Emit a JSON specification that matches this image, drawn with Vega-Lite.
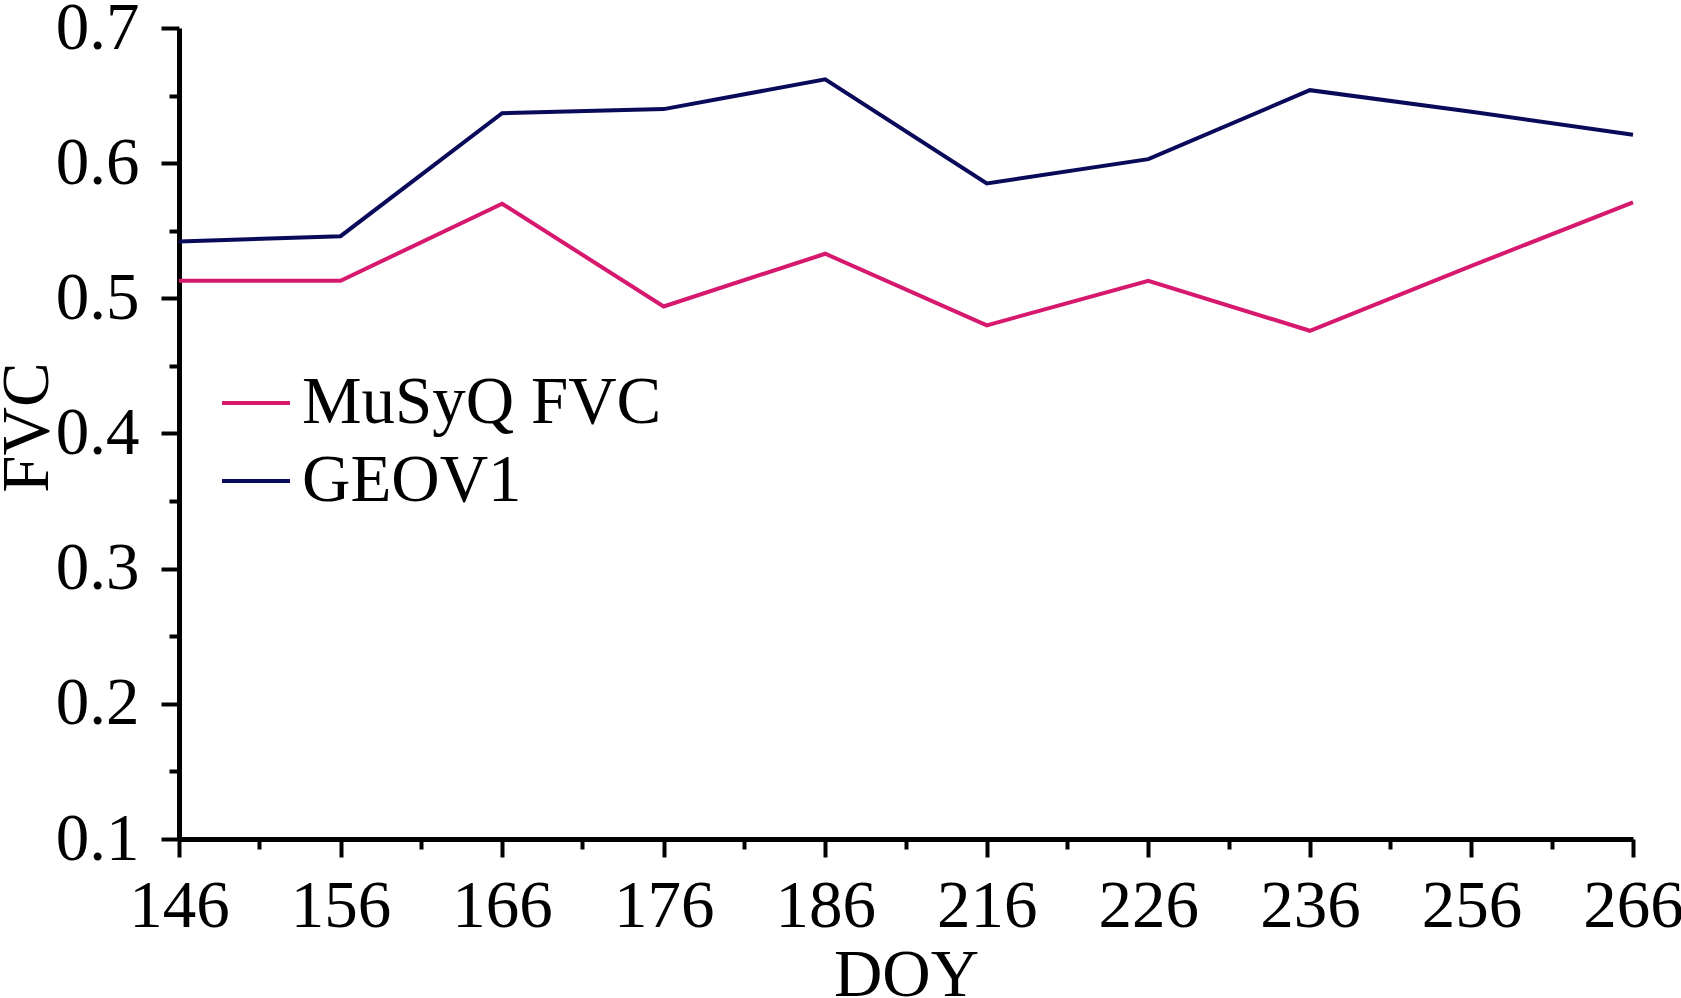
{
  "$schema": "https://vega.github.io/schema/vega-lite/v6.json",
  "width": 1454,
  "height": 811,
  "autosize": {"type": "none"},
  "padding": {"left": 179, "top": 28, "right": 48, "bottom": 159},
  "config": {
    "font": "Liberation Serif",
    "view": {"stroke": null},
    "axis": {
      "grid": false,
      "domainColor": "black",
      "domainWidth": 5,
      "tickColor": "black",
      "tickWidth": 4,
      "labelColor": "black",
      "labelFont": "Liberation Serif",
      "labelFontSize": 67,
      "titleFont": "Liberation Serif",
      "titleFontSize": 67,
      "titleFontWeight": "normal",
      "titleColor": "black"
    }
  },
  "data": {
    "values": [
      {"DOY": 146, "product": "MuSyQ FVC", "FVC": 0.513},
      {"DOY": 156, "product": "MuSyQ FVC", "FVC": 0.513},
      {"DOY": 166, "product": "MuSyQ FVC", "FVC": 0.570},
      {"DOY": 176, "product": "MuSyQ FVC", "FVC": 0.494},
      {"DOY": 186, "product": "MuSyQ FVC", "FVC": 0.533},
      {"DOY": 216, "product": "MuSyQ FVC", "FVC": 0.480},
      {"DOY": 226, "product": "MuSyQ FVC", "FVC": 0.513},
      {"DOY": 236, "product": "MuSyQ FVC", "FVC": 0.476},
      {"DOY": 256, "product": "MuSyQ FVC", "FVC": 0.524},
      {"DOY": 266, "product": "MuSyQ FVC", "FVC": 0.571},
      {"DOY": 146, "product": "GEOV1", "FVC": 0.542},
      {"DOY": 156, "product": "GEOV1", "FVC": 0.546},
      {"DOY": 166, "product": "GEOV1", "FVC": 0.637},
      {"DOY": 176, "product": "GEOV1", "FVC": 0.640},
      {"DOY": 186, "product": "GEOV1", "FVC": 0.662},
      {"DOY": 216, "product": "GEOV1", "FVC": 0.585},
      {"DOY": 226, "product": "GEOV1", "FVC": 0.603},
      {"DOY": 236, "product": "GEOV1", "FVC": 0.654},
      {"DOY": 256, "product": "GEOV1", "FVC": 0.638},
      {"DOY": 266, "product": "GEOV1", "FVC": 0.621}
    ]
  },
  "layer": [
    {
      "mark": {"type": "line", "strokeWidth": 4},
      "encoding": {
        "x": {
          "field": "DOY",
          "type": "ordinal",
          "scale": {"type": "point", "padding": 0},
          "axis": {
            "title": "DOY",
            "labelAngle": 0,
            "tickSize": 18,
            "labelPadding": 16,
            "titlePadding": 3
          }
        },
        "y": {
          "field": "FVC",
          "type": "quantitative",
          "scale": {"domain": [0.1, 0.7], "nice": false, "zero": false},
          "axis": {
            "title": "FVC",
            "values": [0.1, 0.15, 0.2, 0.25, 0.3, 0.35, 0.4, 0.45, 0.5, 0.55, 0.6, 0.65, 0.7],
            "labelExpr": "round(datum.value * 100) % 10 == 0 ? format(datum.value, '.1f') : ''",
            "labelOverlap": false,
            "tickSize": {"condition": {"test": "round(datum.value * 100) % 10 != 0", "value": 10}, "value": 18},
            "labelPadding": 22,
            "titleX": -132,
            "titleY": 399,
            "titleAngle": -90,
            "titleAlign": "center",
            "titleBaseline": "alphabetic"
          }
        },
        "color": {
          "field": "product",
          "type": "nominal",
          "scale": {"domain": ["MuSyQ FVC", "GEOV1"], "range": ["#D6186E", "#0A0A5A"]},
          "legend": {
            "orient": "none",
            "legendX": 41,
            "legendY": 339,
            "title": null,
            "padding": 0,
            "symbolType": "stroke",
            "symbolSize": 4624,
            "symbolStrokeWidth": 4,
            "labelFont": "Liberation Serif",
            "labelFontSize": 67,
            "labelColor": "black",
            "labelOffset": 10,
            "labelLimit": 0,
            "rowPadding": 9
          }
        }
      }
    },
    {
      "transform": [{"filter": "datum.DOY != 266"}],
      "mark": {"type": "point", "opacity": 0},
      "encoding": {
        "x": {
          "field": "DOY",
          "type": "ordinal",
          "scale": {"type": "band", "paddingInner": 0, "paddingOuter": 0},
          "axis": {
            "orient": "bottom",
            "labels": false,
            "domain": false,
            "tickSize": 10,
            "tickWidth": 4,
            "title": null
          }
        }
      }
    }
  ],
  "resolve": {"scale": {"x": "independent"}, "axis": {"x": "independent"}}
}
